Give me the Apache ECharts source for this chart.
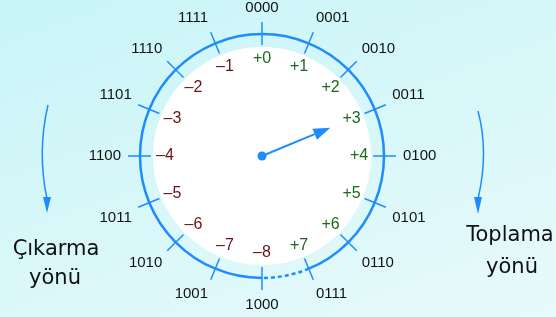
<!DOCTYPE html>
<html>
<head>
<meta charset="utf-8">
<script src="https://cdn.jsdelivr.net/npm/echarts@6/dist/echarts.min.js"></script>
<style>
  html, body { margin: 0; padding: 0; }
  #main { width: 556px; height: 317px; background: linear-gradient(160deg, #c8f5f8 0%, #d8f7f9 50%, #e8fafa 100%); }
</style>
</head>
<body>
<div id="main"></div>
<script>
// 4 bitlik kodlar, tepeden saat yönünde
var codes = ['0000', '0001', '0010', '0011', '0100', '0101', '0110', '0111',
             '1000', '1001', '1010', '1011', '1100', '1101', '1110', '1111'];
// aynı konumların işaretli (ikiye tümleyen) değerleri
var signedValues = [0, 1, 2, 3, 4, 5, 6, 7, -8, -7, -6, -5, -4, -3, -2, -1];
// ibrenin gösterdiği konum (+3)
var pointerIndex = 3;
// taşma bölgesi: 0111 ile 1000 arası kesikli
var overflowSegment = 7;
// yan yazılar
var leftWords = ['Çıkarma', 'yönü'];
var rightWords = ['Toplama', 'yönü'];

var BLUE = '#1e8cff';
var R_OUT = 134, R_CIRCLE = 122, R_TICK_IN = 111, R_WHITE = 109, R_TEXT = 97, R_POINTER = 74;

var chart = echarts.init(document.getElementById('main'));

function fmtSigned(v) {
  return (v < 0 ? '\u2013' : '+') + Math.abs(v);
}

var option = {
  backgroundColor: 'transparent',
  animation: false,
  polar: {
    center: [262, 156],
    radius: R_OUT
  },
  angleAxis: {
    type: 'category',
    data: codes,
    startAngle: 90,
    clockwise: true,
    boundaryGap: false,
    axisLine: { show: false },
    axisTick: { show: false },
    splitLine: { show: false },
    axisLabel: {
      margin: 7,
      fontSize: 15,
      color: '#111',
      fontFamily: 'Liberation Sans'
    }
  },
  radiusAxis: {
    min: 0,
    max: R_OUT,
    show: false
  },
  graphic: [
    // sol ok (çıkarma yönü)
    { type: 'bezierCurve', shape: { x1: 48, y1: 105, x2: 47, y2: 199, cpx1: 37, cpy1: 152 },
      style: { stroke: BLUE, lineWidth: 1.5, fill: null } },
    { type: 'polygon', shape: { points: [[43, 197], [51, 197], [47, 213]] }, style: { fill: BLUE } },
    // sağ ok (toplama yönü)
    { type: 'bezierCurve', shape: { x1: 478, y1: 111, x2: 478, y2: 199, cpx1: 489, cpy1: 152 },
      style: { stroke: BLUE, lineWidth: 1.5, fill: null } },
    { type: 'polygon', shape: { points: [[474, 197], [482, 197], [478, 214]] }, style: { fill: BLUE } },
    { type: 'text', x: 56, y: 250, style: { text: leftWords[0], font: '21px "DejaVu Sans"', fill: '#111', align: 'center', verticalAlign: 'middle' } },
    { type: 'text', x: 55, y: 279, style: { text: leftWords[1], font: '21px "DejaVu Sans"', fill: '#111', align: 'center', verticalAlign: 'middle' } },
    { type: 'text', x: 510, y: 236, style: { text: rightWords[0], font: '21px "DejaVu Sans"', fill: '#111', align: 'center', verticalAlign: 'middle' } },
    { type: 'text', x: 512, y: 268, style: { text: rightWords[1], font: '21px "DejaVu Sans"', fill: '#111', align: 'center', verticalAlign: 'middle' } }
  ],
  series: [
    {
      // beyaz iç disk
      type: 'custom',
      coordinateSystem: 'polar',
      data: [[0, 0]],
      z: 1,
      renderItem: function (params, api) {
        var c = api.coord([0, 0]);
        var p = api.coord([R_WHITE, 0]);
        var r = Math.hypot(p[0] - c[0], p[1] - c[1]);
        return { type: 'circle', shape: { cx: c[0], cy: c[1], r: r }, style: { fill: '#fff' } };
      }
    },
    {
      // çember: komşu kodlar arasındaki yaylar
      type: 'custom',
      coordinateSystem: 'polar',
      data: codes.map(function (c, i) { return [R_CIRCLE, i]; }),
      z: 2,
      renderItem: function (params, api) {
        var i = params.dataIndex;
        var c = api.coord([0, i]);
        var p0 = api.coord([R_CIRCLE, i]);
        var p1 = api.coord([R_CIRCLE, (i + 1) % codes.length]);
        var r = Math.hypot(p0[0] - c[0], p0[1] - c[1]);
        var a0 = Math.atan2(p0[1] - c[1], p0[0] - c[0]);
        var a1 = Math.atan2(p1[1] - c[1], p1[0] - c[0]);
        if (a1 < a0) a1 += Math.PI * 2;
        return {
          type: 'arc',
          shape: { cx: c[0], cy: c[1], r: r, startAngle: a0, endAngle: a1, clockwise: true },
          style: { stroke: BLUE, lineWidth: 2.5, fill: null, lineDash: i === overflowSegment ? [4, 3] : null }
        };
      }
    },
    {
      // çentikler
      type: 'custom',
      coordinateSystem: 'polar',
      data: codes.map(function (c, i) { return [R_OUT, i]; }),
      z: 3,
      renderItem: function (params, api) {
        var i = params.dataIndex;
        var a = api.coord([R_TICK_IN, i]);
        var b = api.coord([R_OUT, i]);
        return { type: 'line', shape: { x1: a[0], y1: a[1], x2: b[0], y2: b[1] }, style: { stroke: BLUE, lineWidth: 1.5 } };
      }
    },
    {
      // işaretli değerler
      type: 'custom',
      coordinateSystem: 'polar',
      data: signedValues.map(function (v, i) { return [R_TEXT, i]; }),
      z: 4,
      renderItem: function (params, api) {
        var i = params.dataIndex;
        var v = signedValues[i];
        var p = api.coord([R_TEXT, i]);
        return {
          type: 'text',
          x: p[0], y: p[1],
          style: {
            text: fmtSigned(v),
            font: '16px "Liberation Sans"',
            fill: v < 0 ? '#6a1212' : '#1d6a1d',
            align: 'center',
            verticalAlign: 'middle'
          }
        };
      }
    },
    {
      // ibre
      type: 'custom',
      coordinateSystem: 'polar',
      data: [[R_POINTER, pointerIndex]],
      z: 5,
      renderItem: function (params, api) {
        var c = api.coord([0, pointerIndex]);
        var tip = api.coord([R_POINTER, pointerIndex]);
        var base = api.coord([R_POINTER - 17, pointerIndex]);
        var dx = tip[0] - c[0], dy = tip[1] - c[1];
        var len = Math.hypot(dx, dy);
        var ux = -dy / len * 6, uy = dx / len * 6;
        return {
          type: 'group',
          children: [
            { type: 'line', shape: { x1: c[0], y1: c[1], x2: base[0], y2: base[1] }, style: { stroke: BLUE, lineWidth: 2 } },
            { type: 'polygon', shape: { points: [tip, [base[0] + ux, base[1] + uy], [base[0] - ux, base[1] - uy]] }, style: { fill: BLUE } },
            { type: 'circle', shape: { cx: c[0], cy: c[1], r: 4.5 }, style: { fill: BLUE } }
          ]
        };
      }
    }
  ]
};

chart.setOption(option);
</script>
</body>
</html>
